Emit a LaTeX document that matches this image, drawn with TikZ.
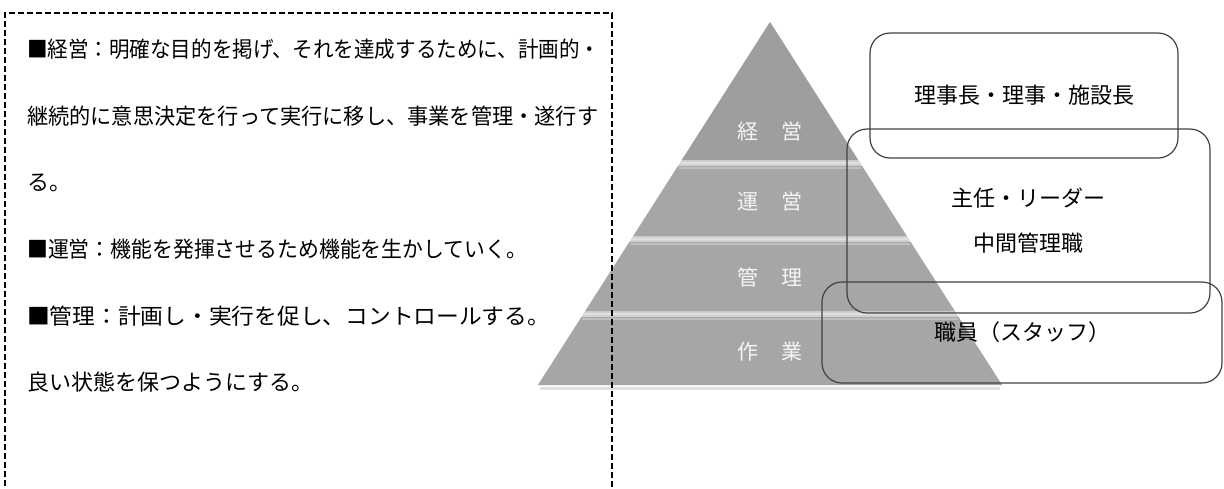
\documentclass[tikz,border=0pt]{standalone}
\usepackage{fontspec}
\newfontfamily\jp{Noto Sans CJK JP}
\begin{document}
\begin{tikzpicture}[x=1pt,y=-1pt,
  txt/.style={inner sep=0pt, anchor=west, font=\jp\fontsize{22}{22}\selectfont, text height=17pt, text depth=3pt},
  tierlab/.style={inner sep=0pt, text=white!92!gray, font=\jp\fontsize{21}{21}\selectfont},
  tier/.style={fill=black!35, draw=none},
  sep/.style={draw=black!12, line width=2.5pt},
  rbox/.style={draw=black!75, line width=1.2pt, rounded corners=20pt, inner sep=0pt,
     font=\jp\fontsize{22}{22}\selectfont, align=center}
]
\useasboundingbox (0,0) rectangle (1224,488);
% pyramid background (gaps)
\fill[black!18] (770,22) -- (1002,385) -- (538,385) -- cycle;
% soft shadow under pyramid
\draw[black!12, line width=3pt] (540,388) -- (1000,388);
% tiers
\fill[tier, fill=black!38] (770,22) -- (858.2,160) -- (681.8,160) -- cycle;
\fill[tier] (678,166) -- (862,166) -- (906.7,236) -- (633.3,236) -- cycle;
\fill[tier] (629.4,242) -- (910.6,242) -- (954.7,311) -- (585.3,311) -- cycle;
\fill[tier] (581.5,317) -- (958.5,317) -- (1002,385) -- (538,385) -- cycle;
% separators
\draw[sep] (681,163) -- (859,163);
\draw[sep] (632,239) -- (908,239);
\draw[sep] (584,314) -- (956,314);
\draw[black!25, line width=1.5pt] (679,168) -- (861,168);
\draw[black!25, line width=1.5pt] (630,244) -- (910,244);
\draw[black!25, line width=1.5pt] (582,319) -- (958,319);
% tier labels
\node[tierlab] (t1) at (770,132) {経\hspace{24pt}営};
\node[tierlab] (t2) at (770,202) {運\hspace{24pt}営};
\node[tierlab] (t3) at (770,277) {管\hspace{24pt}理};
\node[tierlab] (t4) at (770,352) {作\hspace{24pt}業};
% dashed text frame
\draw[line width=1.7pt, dash pattern=on 6pt off 3pt] (5,495) -- (5,13) -- (612,13) -- (612,495);
% left text
\node[txt] (l1) at (27,50) {\resizebox{573pt}{\height}{■経営：明確な目的を掲げ、それを達成するために、計画的・}};
\node[txt] (l2) at (27,117) {\resizebox{571pt}{\height}{継続的に意思決定を行って実行に移し、事業を管理・遂行す}};
\node[txt] (l3) at (27,183) {る。};
\node[txt] (l4) at (27,250) {\resizebox{500pt}{\height}{■運営：機能を発揮させるため機能を生かしていく。}};
\node[txt] (l5) at (27,317) {\resizebox{523pt}{\height}{■管理：計画し・実行を促し、コントロールする。}};
\node[txt] (l6) at (27,383) {良い状態を保つようにする。};
% right boxes
\node[rbox, minimum width=308pt, minimum height=125pt] (b1) at (1024,95.5) {理事長・理事・施設長};
\node[rbox, minimum width=363pt, minimum height=184pt, font=\jp\fontsize{22}{45}\selectfont] (b2) at (1028.5,221) {主任・リーダー\\中間管理職};
\node[rbox, minimum width=400pt, minimum height=101pt] (b3) at (1022,332.5) {職員（スタッフ）};
\end{tikzpicture}
\end{document}
